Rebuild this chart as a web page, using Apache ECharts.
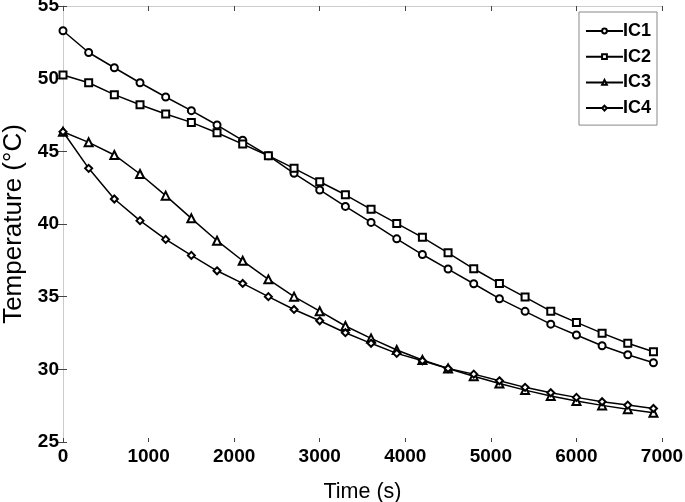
<!DOCTYPE html>
<html>
<head>
<meta charset="utf-8">
<script src="https://cdn.jsdelivr.net/npm/echarts@6/dist/echarts.min.js"></script>
<style>
html,body{margin:0;padding:0;background:#fff;}
#chart{width:685px;height:502px;}
</style>
</head>
<body>
<div id="chart"></div>
<script>
var times = [0, 300, 600, 900, 1200, 1500, 1800, 2100, 2400, 2700, 3000, 3300, 3600, 3900, 4200, 4500, 4800, 5100, 5400, 5700, 6000, 6300, 6600, 6900];
var ic1 = [53.3, 51.8, 50.75, 49.72, 48.74, 47.8, 46.81, 45.76, 44.7, 43.49, 42.34, 41.21, 40.11, 38.98, 37.9, 36.9, 35.89, 34.86, 33.99, 33.11, 32.36, 31.62, 31.0, 30.45];
var ic2 = [50.25, 49.72, 48.9, 48.21, 47.57, 46.99, 46.28, 45.5, 44.7, 43.83, 42.91, 42.01, 41.01, 40.04, 39.08, 38.02, 36.92, 35.91, 34.97, 34.0, 33.23, 32.49, 31.79, 31.21];
var ic3 = [46.35, 45.62, 44.75, 43.44, 41.95, 40.39, 38.85, 37.47, 36.19, 35.0, 34.0, 32.98, 32.13, 31.33, 30.64, 30.06, 29.53, 29.03, 28.57, 28.16, 27.82, 27.52, 27.26, 27.01];
var ic4 = [46.35, 43.83, 41.72, 40.23, 38.94, 37.84, 36.78, 35.91, 35.0, 34.12, 33.34, 32.52, 31.79, 31.1, 30.59, 30.06, 29.67, 29.21, 28.76, 28.39, 28.07, 27.77, 27.54, 27.31];
var seriesNames = ['IC1', 'IC2', 'IC3', 'IC4'];
var symbols = ['emptyCircle', 'emptyRect', 'emptyTriangle', 'emptyDiamond'];
var xTicks = {min: 0, max: 7000, interval: 1000};
var yTicks = {min: 25, max: 55, interval: 5};

function pairs(vals) { return times.map(function (t, i) { return [t, vals[i]]; }); }

var font = "'Liberation Sans', Arial, sans-serif";
var allData = [ic1, ic2, ic3, ic4];
var series = allData.map(function (vals, k) {
  return {
    name: seriesNames[k],
    type: 'line',
    data: pairs(vals),
    symbol: symbols[k],
    symbolSize: k === 2 ? 8 : 7,
    showAllSymbol: true,
    lineStyle: {color: '#000', width: 1.5},
    itemStyle: {color: '#000', borderColor: '#000', borderWidth: 1.3},
    emphasis: {disabled: true},
    z: 3 + k
  };
});

function plain(v) { return String(v); }

var chart = echarts.init(document.getElementById('chart'), null, {renderer: 'canvas'});
chart.setOption({
  animation: false,
  backgroundColor: '#fff',
  grid: {left: 63, right: 23, top: 6, bottom: 60, containLabel: false, outerBoundsMode: 'none'},
  legend: {
    data: seriesNames,
    orient: 'vertical',
    top: 12,
    right: 28,
    itemWidth: 37,
    itemHeight: 6,
    itemGap: 7.7,
    padding: [10, 6, 8, 6],
    borderColor: '#888',
    borderWidth: 1,
    backgroundColor: '#fff',
    textStyle: {fontFamily: font, fontWeight: 'bold', fontSize: 18, color: '#000', padding: [0, 0, 0, -5]},
    itemStyle: {color: '#000', borderColor: '#000', borderWidth: 1}
  },
  xAxis: [{
    type: 'value',
    position: 'bottom',
    min: xTicks.min, max: xTicks.max, interval: xTicks.interval,
    name: 'Time (s)',
    nameLocation: 'middle',
    nameGap: 39,
    nameTextStyle: {fontFamily: font, fontSize: 21.5, color: '#000'},
    axisLine: {show: false},
    axisTick: {show: true, inside: true, length: 4, lineStyle: {color: '#444'}},
    axisLabel: {fontFamily: font, fontWeight: 'bold', fontSize: 19, color: '#000', margin: 5, formatter: plain},
    splitLine: {show: false}
  }, {
    type: 'value',
    position: 'top',
    min: xTicks.min, max: xTicks.max, interval: xTicks.interval,
    axisLine: {show: true, lineStyle: {color: '#ccc', width: 1}},
    axisTick: {show: true, inside: true, length: 5, lineStyle: {color: '#444'}},
    axisLabel: {show: false},
    splitLine: {show: false}
  }],
  yAxis: [{
    type: 'value',
    position: 'left',
    min: yTicks.min, max: yTicks.max, interval: yTicks.interval,
    name: 'Temperature (°C)',
    nameLocation: 'middle',
    nameGap: 32,
    nameTextStyle: {fontFamily: font, fontSize: 26, color: '#000'},
    axisLine: {show: true, lineStyle: {color: '#ccc', width: 1}},
    axisTick: {show: true, inside: true, length: 4, lineStyle: {color: '#444'}},
    axisLabel: {fontFamily: font, fontWeight: 'bold', fontSize: 19, color: '#000', margin: 4, formatter: plain},
    splitLine: {show: false}
  }, {
    type: 'value',
    position: 'right',
    min: yTicks.min, max: yTicks.max, interval: yTicks.interval,
    axisLine: {show: true, lineStyle: {color: '#ccc', width: 1}},
    axisTick: {show: true, inside: true, length: 5, lineStyle: {color: '#444'}},
    axisLabel: {show: false},
    splitLine: {show: false}
  }],
  series: series
});
</script>
</body>
</html>
